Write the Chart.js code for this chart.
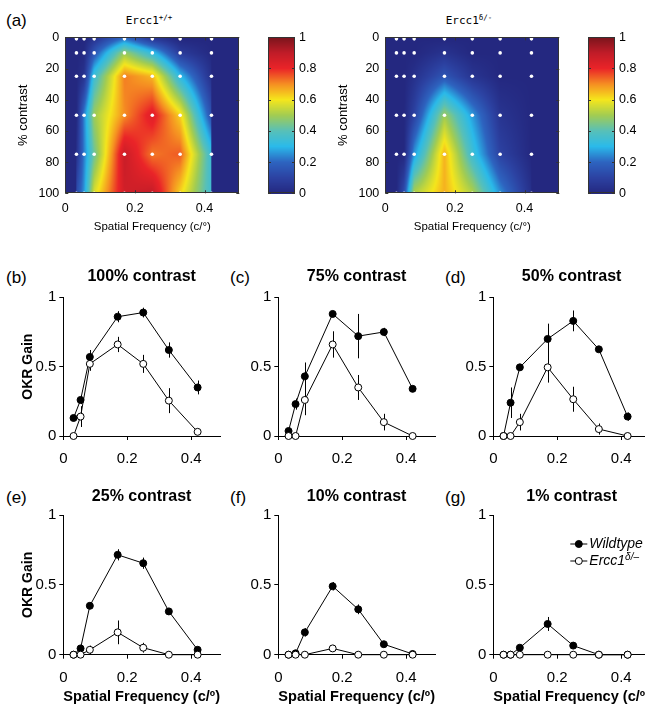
<!DOCTYPE html>
<html>
<head>
<meta charset="utf-8">
<script src="https://cdn.jsdelivr.net/npm/chart.js@4.4.1/dist/chart.umd.min.js"></script>
<style>
html, body { margin: 0; padding: 0; overflow: hidden; background: #fff; }
body { width: 645px; height: 704px; position: relative; font-family: "Liberation Sans", Arial, sans-serif; color: #000; }
canvas { position: absolute; }
.txt { position: absolute; white-space: nowrap; line-height: 1; }
.mono { font-family: "DejaVu Sans Mono", monospace; font-size: 11px; transform: translate(-50%, -50%); }
.mono span { font-size: 7.5px; vertical-align: 4px; }
</style>
</head>
<body>
<div class="txt" style="left:6px;top:12px;font-size:17px">(a)</div>
<div class="txt mono" style="left:149px;top:20px">Ercc1<span>+/+</span></div>
<div class="txt mono" style="left:469px;top:20px">Ercc1<span>δ/-</span></div>
<div class="txt" style="left:6px;top:269px;font-size:17px">(b)</div>
<div class="txt" style="left:230px;top:269px;font-size:17px">(c)</div>
<div class="txt" style="left:445px;top:269px;font-size:17px">(d)</div>
<div class="txt" style="left:6px;top:489px;font-size:17px">(e)</div>
<div class="txt" style="left:230px;top:489px;font-size:17px">(f)</div>
<div class="txt" style="left:445px;top:489px;font-size:17px">(g)</div>
<script>
// spatial frequencies (c/deg) and contrast levels (%)
const freqs = [0.032, 0.054, 0.083, 0.17, 0.25, 0.33, 0.42];
const contrasts = [1, 10, 25, 50, 75, 100];

// OKR gain, wildtype
const wt100 = [0.13, 0.26, 0.57, 0.86, 0.89, 0.62, 0.35];
const wt75  = [0.036, 0.23, 0.43, 0.88, 0.72, 0.75, 0.34];
const wt50  = [0, 0.24, 0.495, 0.70, 0.83, 0.625, 0.14];
const wt25  = [0, 0.045, 0.35, 0.715, 0.655, 0.31, 0.035];
const wt10  = [0, 0.01, 0.16, 0.49, 0.325, 0.075, 0.005];
const wt1   = [0, 0, 0.05, 0.22, 0.065, 0, 0];
const wt100Err = [0.02, 0.03, 0.05, 0.04, 0.035, 0.055, 0.05];
const wt75Err  = [0.01, 0.04, 0.1, 0.02, 0.16, 0.03, 0.02];
const wt50Err  = [0, 0.11, 0.02, 0.11, 0.075, 0.02, 0.03];
const wt25Err  = [0, 0.02, 0.02, 0.04, 0.04, 0.02, 0.01];
const wt10Err  = [0, 0.01, 0.03, 0.03, 0.035, 0.015, 0.01];
const wt1Err   = [0, 0, 0.01, 0.05, 0.01, 0, 0];

// OKR gain, Ercc1 d/-
const mu100 = [0, 0.14, 0.52, 0.66, 0.52, 0.255, 0.03];
const mu75  = [0, 0, 0.26, 0.66, 0.35, 0.10, 0];
const mu50  = [0, 0, 0.10, 0.495, 0.265, 0.05, 0];
const mu25  = [0, 0, 0.035, 0.16, 0.05, 0, 0];
const mu10  = [0, 0, 0, 0.045, 0, 0, 0];
const mu1   = [0, 0, 0, 0, 0, 0, 0];
const mu100Err = [0, 0.075, 0.05, 0.055, 0.065, 0.09, 0.01];
const mu75Err  = [0, 0, 0.11, 0.095, 0.09, 0.06, 0];
const mu50Err  = [0, 0, 0.06, 0.11, 0.09, 0.04, 0];
const mu25Err  = [0, 0, 0.03, 0.085, 0.035, 0, 0];
const mu10Err  = [0, 0, 0, 0.025, 0, 0, 0];
const mu1Err   = [0, 0, 0, 0, 0, 0, 0];

const freqTicks = [0, 0.2, 0.4];
const gainTicks = [0, 0.5, 1];
const contrastTicks = [0, 20, 40, 60, 80, 100];
const barTicks = [0, 0.2, 0.4, 0.6, 0.8, 1];
const seriesNames = ['Wildtype', 'Ercc1'];

const family = '"Liberation Sans", Arial, sans-serif';
Chart.defaults.font.family = family;
Chart.defaults.color = '#000';

// rows of the heat maps follow the contrasts array
const heatWt = [wt1, wt10, wt25, wt50, wt75, wt100];
const heatMu = [mu1, mu10, mu25, mu50, mu75, mu100];

const cmapStops = [
  [0, 36, 40, 128], [0.1, 44, 66, 162], [0.2, 45, 100, 192], [0.3, 42, 186, 234],
  [0.4, 88, 192, 184], [0.5, 162, 204, 82], [0.6, 245, 230, 28], [0.7, 245, 142, 34],
  [0.8, 234, 36, 40], [0.9, 192, 28, 40], [1, 122, 20, 28]
];
function cmap(v) {
  v = Math.min(Math.max(v, 0), 1);
  let k = 0;
  while (k < cmapStops.length - 2 && v > cmapStops[k + 1][0]) k++;
  const a = cmapStops[k], b = cmapStops[k + 1];
  const t = (v - a[0]) / (b[0] - a[0]);
  return [1, 2, 3].map(c => Math.round(a[c] + (b[c] - a[c]) * t));
}

function interp(grid, fx, cy) {
  const n = freqs.length, m = contrasts.length;
  if (fx < freqs[0] || fx > freqs[n - 1]) return 0;
  cy = Math.min(Math.max(cy, contrasts[0]), contrasts[m - 1]);
  let i = 0; while (i < n - 2 && fx > freqs[i + 1]) i++;
  let j = 0; while (j < m - 2 && cy > contrasts[j + 1]) j++;
  const tx = (fx - freqs[i]) / (freqs[i + 1] - freqs[i]);
  const ty = (cy - contrasts[j]) / (contrasts[j + 1] - contrasts[j]);
  return grid[j][i] * (1 - tx) * (1 - ty) + grid[j][i + 1] * tx * (1 - ty)
       + grid[j + 1][i] * (1 - tx) * ty + grid[j + 1][i + 1] * tx * ty;
}

function mk(left, top, w, h) {
  const c = document.createElement('canvas');
  c.width = w; c.height = h;
  c.style.left = left + 'px'; c.style.top = top + 'px';
  c.style.width = w + 'px'; c.style.height = h + 'px';
  document.body.appendChild(c);
  return c;
}

// interpolated surface under the grid dots
function heatFill(grid) {
  return {
    id: 'heatFill',
    beforeDatasetsDraw(chart) {
      const { ctx, chartArea: a, scales: { x, y } } = chart;
      const w = Math.round(a.right - a.left), h = Math.round(a.bottom - a.top);
      const off = document.createElement('canvas');
      off.width = w; off.height = h;
      const octx = off.getContext('2d');
      const img = octx.createImageData(w, h);
      for (let j = 0; j < h; j++) {
        const cy = y.getValueForPixel(a.top + j + 0.5);
        for (let i = 0; i < w; i++) {
          const col = cmap(interp(grid, x.getValueForPixel(a.left + i + 0.5), cy));
          const p = (j * w + i) * 4;
          img.data[p] = col[0]; img.data[p + 1] = col[1]; img.data[p + 2] = col[2]; img.data[p + 3] = 255;
        }
      }
      octx.putImageData(img, 0, 0);
      ctx.drawImage(off, a.left, a.top);
    }
  };
}

const barFill = {
  id: 'barFill',
  beforeDatasetsDraw(chart) {
    const { ctx, chartArea: a, scales: { y } } = chart;
    for (let py = Math.floor(a.top); py < a.bottom; py++) {
      const c = cmap(y.getValueForPixel(py + 0.5));
      ctx.fillStyle = `rgb(${c[0]},${c[1]},${c[2]})`;
      ctx.fillRect(a.left, py, a.right - a.left, 1);
    }
  }
};

// box with inward ticks, matlab style
const frameTicks = {
  id: 'frameTicks',
  afterDraw(chart) {
    const { ctx, chartArea: a, scales: { x, y } } = chart;
    ctx.save();
    ctx.strokeStyle = '#333';
    ctx.lineWidth = 1;
    ctx.strokeRect(Math.round(a.left) + 0.5, Math.round(a.top) + 0.5,
                   Math.round(a.right - a.left) - 1, Math.round(a.bottom - a.top) - 1);
    ctx.beginPath();
    if (x.options.display) {
      x.ticks.forEach(t => {
        const px = Math.round(x.getPixelForValue(t.value)) + 0.5;
        ctx.moveTo(px, a.bottom); ctx.lineTo(px, a.bottom - 3);
        ctx.moveTo(px, a.top); ctx.lineTo(px, a.top + 3);
      });
    }
    y.ticks.forEach(t => {
      const py = Math.round(y.getPixelForValue(t.value)) + 0.5;
      ctx.moveTo(a.left, py); ctx.lineTo(a.left + 3, py);
      ctx.moveTo(a.right, py); ctx.lineTo(a.right - 3, py);
    });
    ctx.stroke();
    ctx.restore();
  }
};

function heatPanel(left, grid) {
  const cv = mk(left, 0, 250, 240);
  const dots = [];
  contrasts.forEach(c => freqs.forEach(f => dots.push({ x: f, y: c })));
  new Chart(cv, {
    type: 'scatter',
    data: { datasets: [{ data: dots, pointRadius: 1.8, pointBackgroundColor: '#fff', pointBorderWidth: 0, clip: false }] },
    options: {
      responsive: false, animation: false, events: [],
      layout: { padding: { top: 37.3, right: 10.7, left: 0, bottom: 0 } },
      plugins: { legend: { display: false }, tooltip: { enabled: false } },
      scales: {
        x: {
          type: 'linear', min: 0, max: 0.5,
          afterBuildTicks: s => { s.ticks = freqTicks.map(v => ({ value: v })); },
          afterFit: s => { s.height = 46.7; },
          grid: { display: false, drawTicks: false }, border: { display: false },
          ticks: { padding: 8, font: { size: 12.5 }, callback: v => String(v) },
          title: { display: true, text: 'Spatial Frequency (c/°)', font: { size: 11.5 }, padding: { top: 0, bottom: 6 } }
        },
        y: {
          type: 'linear', min: 0, max: 100, reverse: true,
          afterBuildTicks: s => { s.ticks = contrastTicks.map(v => ({ value: v })); },
          afterFit: s => { s.width = 65.3; },
          grid: { display: false, drawTicks: false }, border: { display: false },
          ticks: { padding: 6, font: { size: 12.5 } },
          title: { display: true, text: '% contrast', font: { size: 13 }, padding: { top: 15.5, bottom: 0 } }
        }
      }
    },
    plugins: [heatFill(grid), frameTicks]
  });
}

function colorBar(left) {
  const cv = mk(left, 0, 60, 240);
  new Chart(cv, {
    type: 'scatter',
    data: { datasets: [{ data: [] }] },
    options: {
      responsive: false, animation: false, events: [],
      layout: { padding: { left: 8, top: 37.3, bottom: 46.7, right: 0 } },
      plugins: { legend: { display: false }, tooltip: { enabled: false } },
      scales: {
        x: { display: false, min: 0, max: 1 },
        y: {
          position: 'right', min: 0, max: 1,
          afterBuildTicks: s => { s.ticks = barTicks.map(v => ({ value: v })); },
          afterFit: s => { s.width = 25; },
          grid: { display: false, drawTicks: false }, border: { display: false },
          ticks: { padding: 4, font: { size: 12.5 }, callback: v => String(v) }
        }
      }
    },
    plugins: [barFill, frameTicks]
  });
}

const errBars = {
  id: 'errBars',
  beforeDatasetsDraw(chart) {
    const { ctx, scales: { x, y } } = chart;
    ctx.save();
    ctx.strokeStyle = '#000';
    ctx.lineWidth = 1;
    chart.data.datasets.forEach(ds => {
      ds.data.forEach((pt, i) => {
        const e = ds.err[i];
        if (!e) return;
        const px = Math.round(x.getPixelForValue(pt.x)) + 0.5;
        ctx.beginPath();
        ctx.moveTo(px, y.getPixelForValue(pt.y - e));
        ctx.lineTo(px, y.getPixelForValue(pt.y + e));
        ctx.stroke();
      });
    });
    ctx.restore();
  }
};

const legendMarks = {
  id: 'legendMarks',
  afterDraw(chart) {
    const { ctx, chartArea: a } = chart;
    const x0 = a.left + 77;
    const rows = [
      { y: a.top + 29, fill: '#000', text: seriesNames[0], sup: '' },
      { y: a.top + 46, fill: '#fff', text: seriesNames[1], sup: 'δ/–' }
    ];
    ctx.save();
    rows.forEach(r => {
      ctx.strokeStyle = '#000'; ctx.lineWidth = 1;
      ctx.beginPath(); ctx.moveTo(x0, r.y); ctx.lineTo(x0 + 17, r.y); ctx.stroke();
      ctx.beginPath(); ctx.arc(x0 + 8.5, r.y, 3.5, 0, Math.PI * 2);
      ctx.fillStyle = r.fill; ctx.fill(); ctx.stroke();
      ctx.fillStyle = '#000';
      ctx.textBaseline = 'middle';
      ctx.font = 'italic 14px ' + family;
      ctx.fillText(r.text, x0 + 19, r.y);
      if (r.sup) {
        const w = ctx.measureText(r.text).width;
        ctx.font = 'italic 10px ' + family;
        ctx.fillText(r.sup, x0 + 19 + w, r.y - 4);
      }
    });
    ctx.restore();
  }
};

const panels = [
  { left: 0,   top: 260, title: '100% contrast', wt: wt100, wtE: wt100Err, mu: mu100, muE: mu100Err, ylab: true },
  { left: 215, top: 260, title: '75% contrast',  wt: wt75,  wtE: wt75Err,  mu: mu75,  muE: mu75Err },
  { left: 430, top: 260, title: '50% contrast',  wt: wt50,  wtE: wt50Err,  mu: mu50,  muE: mu50Err },
  { left: 0,   top: 480, title: '25% contrast',  wt: wt25,  wtE: wt25Err,  mu: mu25,  muE: mu25Err, ylab: true, xlab: true },
  { left: 215, top: 480, title: '10% contrast',  wt: wt10,  wtE: wt10Err,  mu: mu10,  muE: mu10Err, xlab: true },
  { left: 430, top: 480, title: '1% contrast',   wt: wt1,   wtE: wt1Err,   mu: mu1,   muE: mu1Err, xlab: true, legend: true }
];

function linePanel(p) {
  const h = p.xlab ? 228 : 210;
  const plotBottom = p.xlab ? 174.7 : 176;
  const cv = mk(p.left, p.top, 225, h);
  const pts = vals => freqs.map((f, i) => ({ x: f, y: vals[i] }));
  const common = { showLine: true, borderColor: '#000', borderWidth: 1, pointRadius: 3.5,
                   pointBorderColor: '#000', pointBorderWidth: 1, clip: false };
  new Chart(cv, {
    type: 'scatter',
    data: {
      datasets: [
        Object.assign({ label: seriesNames[1], data: pts(p.mu), err: p.muE, order: 0, pointBackgroundColor: '#fff' }, common),
        Object.assign({ label: seriesNames[0], data: pts(p.wt), err: p.wtE, order: 1, pointBackgroundColor: '#000' }, common)
      ]
    },
    options: {
      responsive: false, animation: false, events: [],
      layout: { padding: { left: 0, right: 4, top: 0, bottom: 0 } },
      plugins: {
        legend: { display: false }, tooltip: { enabled: false },
        title: {
          display: true, text: p.title, fullSize: false, color: '#000',
          font: { size: 16, weight: 'bold' },
          padding: { top: 7.4, bottom: p.xlab ? 8.4 : 10.7 }
        }
      },
      scales: {
        x: {
          type: 'linear', min: 0, max: 0.49,
          afterBuildTicks: s => { s.ticks = freqTicks.map(v => ({ value: v })); },
          afterFit: s => { s.height = h - plotBottom; },
          grid: { drawOnChartArea: false, drawTicks: true, tickLength: 4, color: '#000' },
          border: { color: '#000' },
          ticks: { padding: 10, font: { size: 15 }, callback: v => String(v) },
          title: { display: !!p.xlab, text: 'Spatial Frequency (c/º)', font: { size: 15, weight: 'bold' }, padding: { top: 0, bottom: 2 } }
        },
        y: {
          type: 'linear', min: 0, max: 1,
          afterBuildTicks: s => { s.ticks = gainTicks.map(v => ({ value: v })); },
          afterFit: s => { s.width = 63.3; },
          grid: { drawOnChartArea: false, drawTicks: true, tickLength: 4, color: '#000' },
          border: { color: '#000' },
          ticks: { padding: 3, font: { size: 15 }, callback: v => String(v) },
          title: { display: !!p.ylab, text: 'OKR Gain', font: { size: 14, weight: 'bold' }, padding: { top: 20, bottom: 0 } }
        }
      }
    },
    plugins: p.legend ? [errBars, legendMarks] : [errBars]
  });
}

heatPanel(0, heatWt);
colorBar(260);
heatPanel(320, heatMu);
colorBar(580);
panels.forEach(linePanel);
</script>
</body>
</html>
